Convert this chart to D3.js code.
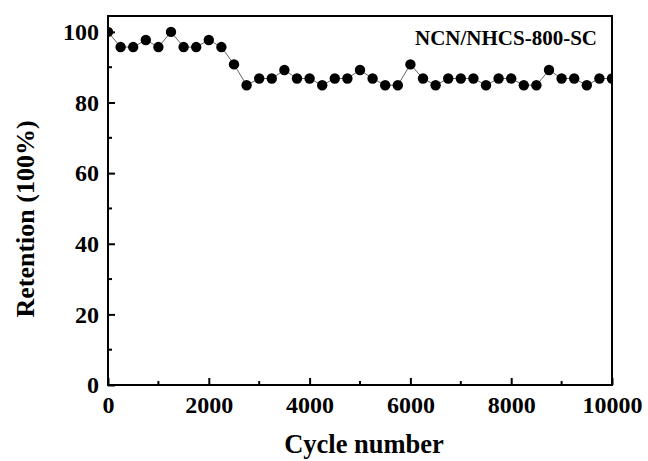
<!DOCTYPE html>
<meta charset="utf-8">
<script src="https://cdn.jsdelivr.net/npm/d3@7"></script>
<style>
body { margin: 0; background: #fff; }
text { font-family: "Liberation Serif", "Times New Roman", serif; font-weight: bold; fill: #000; }
</style>
<div id="vis"></div>
<script>
// cycle number, every 250 cycles
const cycles = d3.range(0, 10001, 250);
const retention = [100, 95.7, 95.7, 97.7, 95.7, 100, 95.7, 95.7, 97.7, 95.7,
  90.8, 84.9, 86.8, 86.8, 89.2, 86.8, 86.8, 84.9, 86.8, 86.8,
  89.2, 86.8, 84.9, 84.9, 90.8, 86.8, 84.9, 86.8, 86.8, 86.8,
  84.9, 86.8, 86.8, 84.9, 84.9, 89.2, 86.8, 86.8, 84.9, 86.8, 86.8];
const xTicks = [0, 2000, 4000, 6000, 8000, 10000];
const yTicks = [0, 20, 40, 60, 80, 100];
const seriesLabel = "NCN/NHCS-800-SC";

const W = 648, H = 461;
const margin = {top: 16, right: 36, bottom: 76, left: 108};
const width = W - margin.left - margin.right;
const height = H - margin.top - margin.bottom;

const data = cycles.map((c, i) => ({c: c, r: retention[i]}));

const x = d3.scaleLinear().domain([0, 10000]).range([0, width]);
const y = d3.scaleLinear().domain([0, 104.5]).range([height, 0]);

const svg = d3.select("#vis").append("svg")
  .attr("width", W).attr("height", H);
const g = svg.append("g").attr("transform", `translate(${margin.left},${margin.top})`);

g.append("clipPath").attr("id", "clip")
  .append("rect").attr("width", width).attr("height", height);

const plot = g.append("g").attr("clip-path", "url(#clip)");
plot.append("path")
  .datum(data)
  .attr("fill", "none")
  .attr("stroke", "#666")
  .attr("stroke-width", 1)
  .attr("d", d3.line().x(d => x(d.c)).y(d => y(d.r)));
plot.selectAll("circle")
  .data(data)
  .enter().append("circle")
  .attr("cx", d => x(d.c))
  .attr("cy", d => y(d.r))
  .attr("r", 5.2)
  .attr("fill", "#000");

// minor ticks
g.append("g").selectAll("line")
  .data(d3.range(1000, 10000, 2000)).enter().append("line")
  .attr("x1", d => x(d)).attr("x2", d => x(d))
  .attr("y1", height).attr("y2", height - 4)
  .attr("stroke", "#000").attr("stroke-width", 2);
g.append("g").selectAll("line")
  .data(d3.range(10, 100, 20)).enter().append("line")
  .attr("y1", d => y(d)).attr("y2", d => y(d))
  .attr("x1", 0).attr("x2", 4)
  .attr("stroke", "#000").attr("stroke-width", 2);

// axes
const xAxis = g.append("g").attr("transform", `translate(0,${height})`)
  .call(d3.axisBottom(x).tickValues(xTicks).tickSize(-7).tickPadding(11).tickFormat(d3.format("d")));
const yAxis = g.append("g")
  .call(d3.axisLeft(y).tickValues(yTicks).tickSize(-7).tickPadding(9));
[xAxis, yAxis].forEach(a => {
  a.select(".domain").remove();
  a.selectAll("line").attr("stroke-width", 2);
  a.selectAll("text").style("font-size", "24px").style("font-family", "Liberation Serif").style("font-weight", "bold");
});

// frame
g.append("rect")
  .attr("width", width).attr("height", height)
  .attr("fill", "none").attr("stroke", "#000").attr("stroke-width", 2);

g.append("text")
  .attr("x", 597 - margin.left).attr("y", 45 - margin.top)
  .attr("text-anchor", "end")
  .style("font-size", "21px")
  .text(seriesLabel);

svg.append("text")
  .attr("x", 364).attr("y", 453)
  .attr("text-anchor", "middle")
  .style("font-size", "26.5px")
  .text("Cycle number");

svg.append("text")
  .attr("transform", "translate(34,219) rotate(-90)")
  .attr("text-anchor", "middle")
  .style("font-size", "26px")
  .text("Retention (100%)");
</script>
